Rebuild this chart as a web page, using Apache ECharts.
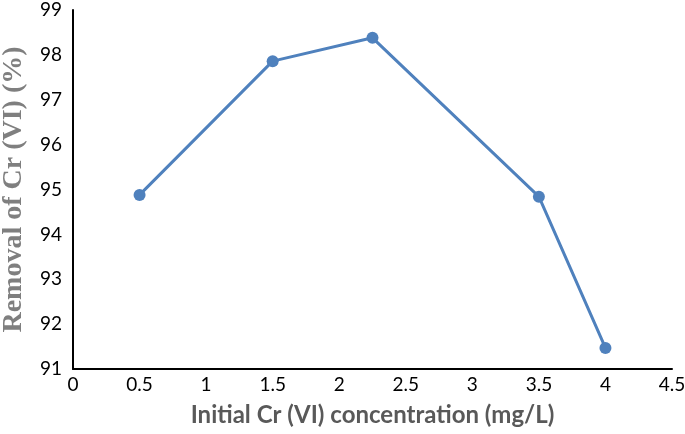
<!DOCTYPE html>
<html><head><meta charset="utf-8">
<script src="https://cdn.jsdelivr.net/npm/echarts@6/dist/echarts.min.js"></script>
<style>html,body{margin:0;padding:0;background:#fff}#c{width:685px;height:434px}</style>
</head><body><div id="c"></div>
<script>
const xValues = [0.5, 1.5, 2.25, 3.5, 4];
const removal = [94.88, 97.86, 98.38, 94.84, 91.47];
const xTitle = 'Initial Cr (VI) concentration (mg/L)';
const yTitle = 'Removal of Cr (VI) (%)';

const chart = echarts.init(document.getElementById('c'));
chart.setOption({
  animation: false,
  grid: {left: 73, right: 13, top: 10, bottom: 65, containLabel: false, outerBoundsMode: 'none'},
  xAxis: {
    type: 'value', min: 0, max: 4.5, interval: 0.5,
    axisLine: {show: true, lineStyle: {color: '#000', width: 2}},
    axisTick: {show: false}, splitLine: {show: false},
    axisLabel: {color: '#000', fontSize: 19, fontFamily: 'Lato', margin: 6},
    name: xTitle, nameLocation: 'middle', nameGap: 34,
    nameTextStyle: {color: '#595959', fontSize: 24, fontWeight: 'bold', fontFamily: 'Lato'}
  },
  yAxis: {
    type: 'value', min: 91, max: 99, interval: 1,
    axisLine: {show: true, lineStyle: {color: '#000', width: 2}},
    axisTick: {show: false}, splitLine: {show: false},
    axisLabel: {color: '#000', fontSize: 19, fontFamily: 'Lato', margin: 11},
    name: yTitle, nameLocation: 'middle', nameGap: 45,
    nameTextStyle: {color: '#7f7f7f', fontSize: 28, fontWeight: 'bold', fontFamily: 'Liberation Serif'}
  },
  series: [{
    type: 'line',
    data: xValues.map((x, i) => [x, removal[i]]),
    symbol: 'circle', symbolSize: 12,
    lineStyle: {color: '#4f81bd', width: 3},
    itemStyle: {color: '#4f81bd'}
  }]
});
</script></body></html>
